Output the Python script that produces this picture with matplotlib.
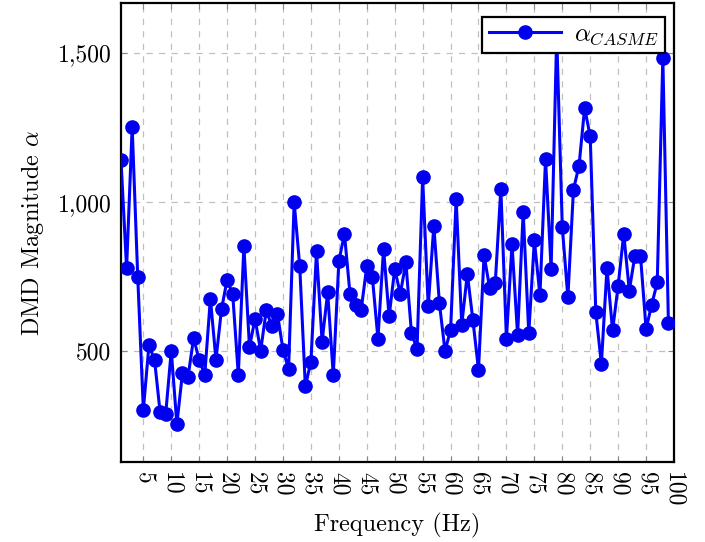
import matplotlib
matplotlib.use("Agg")
import matplotlib.pyplot as plt
import numpy as np

plt.rcParams['font.family'] = ['cmr10', 'DejaVu Serif']
plt.rcParams['mathtext.fontset'] = 'cm'
plt.rcParams['axes.formatter.use_mathtext'] = True

freq = list(range(1, 100))
alpha_casme = [
    1141, 778, 1252, 748, 304, 520, 472, 296, 290, 502,
    256, 427, 414, 545, 470, 422, 677, 472, 642, 740,
    691, 422, 852, 515, 609, 502, 637, 586, 626, 506,
    441, 1000, 785, 383, 465, 835, 533, 698, 420, 802,
    894, 692, 656, 640, 785, 749, 542, 844, 617, 776,
    693, 798, 561, 508, 1083, 651, 921, 662, 502, 570,
    1011, 589, 760, 604, 439, 822, 712, 729, 1045, 542,
    860, 554, 967, 561, 872, 688, 1145, 776, 1560, 917,
    681, 1042, 1123, 1316, 1221, 631, 458, 779, 570, 720,
    894, 704, 821, 821, 575, 656, 731, 1485, 595,
]
x_ticks = list(range(5, 101, 5))
y_ticks = [500, 1000, 1500]
y_tick_labels = ['500', '1,000', '1,500']

fig = plt.figure(figsize=(7.05, 5.42), dpi=100)
ax = fig.add_axes([121/705, 1 - 462/542, (674 - 121)/705, (462 - 3)/542])

ax.plot(freq, alpha_casme, color='#0000ff', lw=2.2, marker='o', ms=9.5,
        markerfacecolor='#0000ee', markeredgecolor='#0000ee',
        label=r'$\alpha_{CASME}$', zorder=3)

ax.set_xlim(1, 100)
ax.set_ylim(129, 1668)
ax.set_xticks(x_ticks)
ax.set_xticklabels([str(v) for v in x_ticks], rotation=270, fontsize=17)
ax.set_yticks(y_ticks)
ax.set_yticklabels(y_tick_labels, fontsize=17)
ax.tick_params(direction='in', length=4, width=0.8, color='#888888',
               top=True, right=True, pad=7)
ax.grid(True, color='#c0c0c0', linestyle=(0, (5, 5)), lw=0.9)
for s in ax.spines.values():
    s.set_linewidth(1.6)
    s.set_color('black')

ax.set_xlabel('Frequency (Hz)', fontsize=17.5, labelpad=4)
ax.set_ylabel(r'DMD Magnitude $\alpha$', fontsize=17.5, labelpad=8)

leg = ax.legend(loc='upper right', bbox_to_anchor=(0.983, 0.97), fontsize=18,
                frameon=True, fancybox=False, framealpha=1.0, borderpad=0.25,
                handlelength=2.9, handletextpad=0.5, borderaxespad=0)
leg.get_frame().set_edgecolor('black')
leg.get_frame().set_linewidth(1.6)
leg.set_zorder(5)

fig.savefig('out.png', dpi=100)
